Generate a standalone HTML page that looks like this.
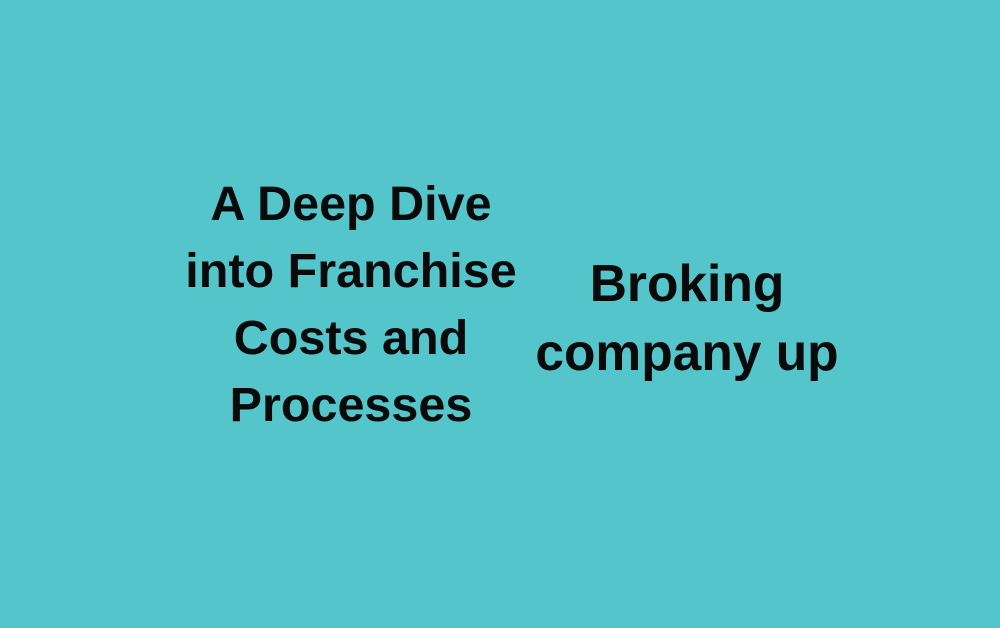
<!DOCTYPE html>
<html><head><style>
html,body{margin:0;padding:0}
body{width:1000px;height:628px;background:#54c5cb;position:relative;overflow:hidden;font-family:"Liberation Sans",sans-serif;font-weight:bold;color:#0a0a0a}
.l{position:absolute;left:151px;width:400px;top:171px;text-align:center;font-size:48.5px;line-height:67px;white-space:nowrap}
.r{position:absolute;left:487px;width:400px;top:249px;text-align:center;font-size:51.5px;line-height:69px;white-space:nowrap}
</style></head><body>
<div class="l">A Deep Dive<br>into Franchise<br>Costs and<br>Processes</div>
<div class="r">Broking<br>company up</div>
</body></html>
